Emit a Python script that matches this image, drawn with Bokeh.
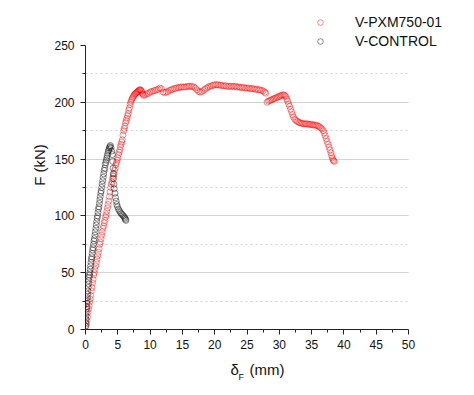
from bokeh.plotting import figure
from bokeh.models import (FixedTicker, Legend, LegendItem, Range1d, Label, Title)
from bokeh.layouts import column
from bokeh.embed import file_html
from bokeh.resources import INLINE

# ---- data ----
pxm_x = [0.10, 0.15, 0.22, 0.30, 0.38, 0.46, 0.55, 0.63, 0.72, 0.81, 0.90, 0.99,
         1.08, 1.17, 1.26, 1.35, 1.45, 1.56, 1.67, 1.78, 1.89, 2.00, 2.10, 2.20,
         2.30, 2.40, 2.50, 2.60, 2.70, 2.80, 2.90, 3.00, 3.10, 3.20, 3.30, 3.40,
         3.50, 3.60, 3.70, 3.80, 3.90, 4.00, 4.10, 4.20, 4.30, 4.40, 4.50, 4.60,
         4.70, 4.80, 4.90, 5.00, 5.10, 5.20, 5.30, 5.40, 5.50, 5.60, 5.70, 5.80,
         5.90, 6.00, 6.10, 6.20, 6.30, 6.40, 6.50, 6.60, 6.70, 6.80, 6.90, 7.00,
         7.10, 7.20, 7.30, 7.40, 7.50, 7.60, 7.70, 7.80, 7.90, 8.00, 8.10, 8.20,
         8.30, 8.40, 8.50, 8.60, 8.70, 8.80, 8.90, 9.00,
         9.25, 9.50, 9.75, 10.00, 10.25, 10.50, 10.75, 11.00, 11.25, 11.50, 11.75,
         12.00, 12.25, 12.50, 12.75, 13.00, 13.25, 13.50, 13.75, 14.00, 14.25,
         14.50, 14.75, 15.00, 15.25, 15.50, 15.75, 16.00, 16.25, 16.50, 16.75,
         17.00, 17.25, 17.50, 17.75, 18.00, 18.25, 18.50, 18.75, 19.00, 19.25,
         19.50, 19.75, 20.00, 20.25, 20.50, 20.75, 21.00, 21.25, 21.50, 21.75,
         22.00, 22.25, 22.50, 22.75, 23.00, 23.25, 23.50, 23.75, 24.00, 24.25,
         24.50, 24.75, 25.00, 25.25, 25.50, 25.75, 26.00, 26.25, 26.50, 26.75,
         27.00, 27.25, 27.50, 27.75, 27.90,
         28.10, 28.30, 28.50, 28.70, 28.90, 29.10, 29.30, 29.50, 29.70, 29.90,
         30.10, 30.30, 30.50, 30.70, 30.85, 31.00, 31.15, 31.30, 31.45, 31.60,
         31.75, 31.90, 32.05, 32.20, 32.40, 32.60, 32.80, 33.00, 33.20, 33.40,
         33.60, 33.80, 34.00, 34.20, 34.40, 34.60, 34.80, 35.00, 35.20, 35.40,
         35.60, 35.80, 36.00, 36.20, 36.40, 36.60, 36.80, 36.95, 37.10, 37.25,
         37.40, 37.55, 37.70, 37.85, 38.00, 38.10, 38.20, 38.30, 38.40, 38.50]
pxm_f = [3, 5, 8, 11, 15, 18, 21, 24, 27, 30, 34, 37,
         41, 44, 48, 50, 53, 56, 59, 62, 65, 68, 71, 75,
         77, 80, 83, 86, 89, 91, 94, 96, 99, 101, 104, 107,
         110, 113, 117, 121, 125, 128, 130, 133, 135, 137, 140, 142,
         145, 147, 149, 151, 154, 156, 158, 161, 163, 165, 167, 171,
         175, 177, 179, 182, 184, 186, 188, 190, 193, 195, 198, 200,
         201.5, 203, 204, 205, 206, 207, 207.5, 208, 208.5, 209, 209.5, 210,
         210.5, 211, 211, 210.5, 209.5, 208, 207, 206,
         206.5, 207.5, 208, 209, 209.5, 210, 210.5, 211, 211.5, 212.5, 212,
         209, 208.5, 209, 209.5, 210.5, 211, 211.5, 212, 212.5, 213,
         213, 213.5, 213.5, 213.5, 213.5, 214, 214, 214, 214, 213.5,
         212.5, 211, 209.5, 209, 209.5, 210.5, 211.5, 212.5, 213.5, 214,
         214.5, 215, 215.5, 215.5, 215.5, 215, 215, 214.5, 214.5, 214.5,
         214, 214, 214, 214, 214, 214, 213.5, 213.5, 213, 213,
         213, 212.5, 212.5, 212.5, 212, 212, 212, 211.5, 211.5, 211,
         211, 210.5, 210, 209, 208,
         200, 201, 201.5, 202, 202.5, 203, 203.5, 204, 204.5, 205,
         205.5, 206, 206.5, 206.5, 206, 205, 203, 201, 198.5, 196.5,
         194, 191.5, 189, 187, 185, 184, 183, 182.5, 182, 181.5,
         181.5, 181, 181, 181, 181, 180.5, 180.5, 180.5, 180, 180,
         180, 179.5, 179, 178.5, 177.5, 176.5, 175, 173, 170.5, 168,
         165.5, 163, 160.5, 158, 155.5, 153, 151, 149.5, 148.5, 148]

ctrl_x = [0.00, 0.03, 0.06, 0.09, 0.12, 0.15, 0.18, 0.22, 0.26, 0.30, 0.34, 0.38,
          0.42, 0.47, 0.52, 0.57, 0.62, 0.67, 0.73, 0.79, 0.85, 0.91, 0.97, 1.03,
          1.10, 1.17, 1.24, 1.31, 1.38, 1.45, 1.52, 1.59, 1.66, 1.73, 1.80, 1.87,
          1.94, 2.01, 2.08, 2.15, 2.22, 2.29, 2.36, 2.43, 2.50, 2.58, 2.66, 2.74,
          2.82, 2.90, 2.98, 3.06, 3.14, 3.22, 3.30, 3.38, 3.46, 3.54, 3.62, 3.70,
          3.78, 3.86,
          3.95, 4.05, 4.15, 4.22, 4.27, 4.30, 4.35, 4.40, 4.45, 4.55, 4.65, 4.75,
          4.85, 4.95, 5.10, 5.25, 5.40, 5.55, 5.70, 5.85, 6.00, 6.10, 6.20, 6.25]
ctrl_f = [3, 6, 9, 12, 15, 18, 20, 23, 25, 28, 31, 34,
          37, 40, 43, 46, 48, 50, 53, 56, 59, 62, 64, 67,
          70, 72, 75, 78, 80, 83, 86, 89, 92, 95, 98, 100,
          103, 106, 108, 111, 114, 117, 120, 122, 125, 128, 131, 134,
          137, 140, 142, 145, 147, 149, 151, 153, 155, 157, 158.5, 160,
          161, 162,
          160, 157, 154, 148, 142, 137, 133, 128, 124, 120, 116, 113,
          110, 108, 106, 104.5, 103, 102, 101, 100, 99, 98, 97, 96]

series_names = ["V-PXM750-01", "V-CONTROL"]
y_ticks = [0, 50, 100, 150, 200, 250]
y_grid = [50, 100, 150, 200]
y_minor = [25, 75, 125, 175, 225]
x_ticks = [0, 5, 10, 15, 20, 25, 30, 35, 40, 45, 50]
x_minor = [2.5, 7.5, 12.5, 17.5, 22.5, 27.5, 32.5, 37.5, 42.5, 47.5]

FONT = "Liberation Sans"
W = 466
LEFT = 85
RED = "#ff0000"
BLACK = "#000000"
GRID = "#d4d4d4"
MARK = dict(size=6, marker="circle", fill_color=None, line_width=1,
            line_alpha=0.45)

# ---------- main plot ----------
# The frame extends above 250 and right of 50 (axes bounded) so that the
# legend, which sits partly outside the data area, is not clipped.
Y_TOP = 329 * 250 / 284
X_END = (W - LEFT) * 50 / 323
p = figure(width=W, height=355, output_backend="svg", toolbar_location=None,
           x_range=Range1d(0, X_END), y_range=Range1d(0, Y_TOP),
           min_border_left=LEFT, min_border_right=0, min_border_top=0,
           min_border_bottom=26)
p.outline_line_color = None
p.background_fill_color = "white"
p.border_fill_color = "white"

p.xgrid.visible = False
x_lo, x_hi = x_ticks[0], x_ticks[-1]
if "cross_bounds" in p.ygrid.properties():
    p.ygrid.ticker = FixedTicker(ticks=y_grid, minor_ticks=y_minor)
    p.ygrid.cross_bounds = (x_lo, x_hi)
    p.ygrid.grid_line_color = GRID
    p.ygrid.grid_line_width = 1
    p.ygrid.minor_grid_line_color = GRID
    p.ygrid.minor_grid_line_dash = "2 3"
else:
    p.ygrid.visible = False
    p.segment(x0=[x_lo] * len(y_grid), x1=[x_hi] * len(y_grid), y0=y_grid,
              y1=y_grid, line_color=GRID, line_width=1)
    p.segment(x0=[x_lo] * len(y_minor), x1=[x_hi] * len(y_minor), y0=y_minor,
              y1=y_minor, line_color=GRID, line_width=1, line_dash="2 3")

for ax in (p.xaxis, p.yaxis):
    ax.axis_line_color = "#222222"
    ax.major_tick_line_color = "#222222"
    ax.minor_tick_line_color = "#222222"
    ax.major_tick_in = 0
    ax.major_tick_out = 5
    ax.minor_tick_in = 0
    ax.minor_tick_out = 3
    ax.major_label_text_font = FONT
    ax.major_label_text_font_size = "12px"
    ax.major_label_text_color = "#111111"

p.yaxis.ticker = FixedTicker(ticks=y_ticks, minor_ticks=y_minor)
p.yaxis.bounds = (y_ticks[0], y_ticks[-1])
p.xaxis.ticker = FixedTicker(ticks=x_ticks, minor_ticks=x_minor)
p.xaxis.bounds = (x_lo, x_hi)
p.yaxis.major_label_standoff = 6
p.xaxis.major_label_standoff = 5

p.add_layout(Title(text="F (kN)", align="center", offset=-16, standoff=7,
                   text_font=FONT, text_font_size="15px",
                   text_font_style="normal", text_color="#111111"), "left")

r1 = p.scatter(pxm_x, pxm_f, line_color=RED, **MARK)
r2 = p.scatter(ctrl_x, ctrl_f, line_color=BLACK, **MARK)

legend = Legend(items=[LegendItem(label=series_names[0], renderers=[r1]),
                       LegendItem(label=series_names[1], renderers=[r2])],
                location=(228, 280), padding=0, margin=0, spacing=3,
                glyph_width=14, glyph_height=14, label_height=14,
                label_standoff=28, label_text_font=FONT,
                label_text_font_size="14px", label_text_color="#111111",
                background_fill_alpha=0, border_line_color=None)
p.add_layout(legend, "center")

# ---------- x axis title strip (bottom) ----------
# its frame is aligned with the main frame by the column layout, so the
# x range is the same pixel span (LEFT .. W)
bot = figure(width=W, height=32, output_backend="svg", toolbar_location=None,
             x_axis_type=None, y_axis_type=None, min_border=0,
             x_range=Range1d(LEFT, W), y_range=Range1d(0, 32))
bot.outline_line_color = None
bot.grid.visible = False
txt = dict(text_font=FONT, text_color="#111111", text_align="left",
           text_baseline="middle")
bot.add_layout(Label(x=230, y=18, text="\u03b4", text_font_size="15px", **txt))
bot.add_layout(Label(x=238, y=11, text="F", text_font_size="9px", **txt))
bot.add_layout(Label(x=249, y=18, text="(mm)", text_font_size="15px", **txt))

layout = column(p, bot, spacing=0)
open("out.html", "w").write(file_html(layout, INLINE))
